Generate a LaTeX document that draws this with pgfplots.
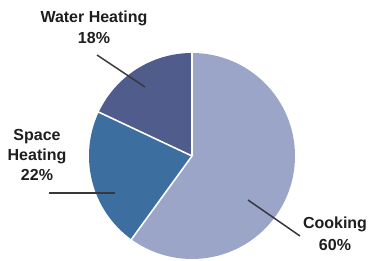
\documentclass[border=0pt]{standalone}
\usepackage{fontspec}
\setmainfont{Liberation Sans}
\usepackage{pgfplots}
\pgfplotsset{compat=1.18}
\definecolor{cook}{RGB}{155,165,200}
\definecolor{spaceh}{RGB}{60,110,160}
\definecolor{waterh}{RGB}{80,92,140}
\definecolor{txt}{RGB}{30,30,30}
\definecolor{lead}{RGB}{55,55,60}
\begin{document}
\begin{tikzpicture}
\begin{axis}[scale only axis, width=369pt, height=261pt,
  xmin=0, xmax=369, ymin=0, ymax=261, y dir=reverse,
  hide axis, clip=false]
% values (percent): Cooking 60, Space Heating 22, Water Heating 18
\pgfmathsetmacro{\aA}{90}
\pgfmathsetmacro{\aB}{90-60*3.6}
\pgfmathsetmacro{\aC}{\aB-22*3.6}
\pgfmathsetmacro{\aD}{\aC-18*3.6}
\fill[cook] (axis cs:192,156) -- ++(\aA:103pt) arc[start angle=\aA, end angle=\aB, radius=103pt] -- cycle;
\fill[spaceh] (axis cs:192,156) -- ++(\aB:103pt) arc[start angle=\aB, end angle=\aC, radius=103pt] -- cycle;
\fill[waterh] (axis cs:192,156) -- ++(\aC:103pt) arc[start angle=\aC, end angle=\aD, radius=103pt] -- cycle;
\draw[white, line width=1.6pt] (axis cs:192,156) -- ++(\aA:104pt);
\draw[white, line width=1.6pt] (axis cs:192,156) -- ++(\aB:104pt);
\draw[white, line width=1.6pt] (axis cs:192,156) -- ++(\aC:104pt);
% leader lines
\draw[lead, line width=1.5pt] (axis cs:97,55) -- (axis cs:145,87);
\draw[lead, line width=1.5pt] (axis cs:49,193) -- (axis cs:115,193);
\draw[lead, line width=1.5pt] (axis cs:248,200) -- (axis cs:300,236);
% labels
\node[txt, font=\fontsize{16}{21}\selectfont\bfseries, align=center] at (axis cs:94,27) {Water Heating\\18\%};
\node[txt, font=\fontsize{16}{20}\selectfont\bfseries, align=center] at (axis cs:37,155) {Space\\Heating\\22\%};
\node[txt, font=\fontsize{16}{22}\selectfont\bfseries, align=center] at (axis cs:335,234) {Cooking\\60\%};
\end{axis}
\pgfresetboundingbox
\useasboundingbox (current axis.south west) rectangle (current axis.north east);
\end{tikzpicture}
\end{document}
